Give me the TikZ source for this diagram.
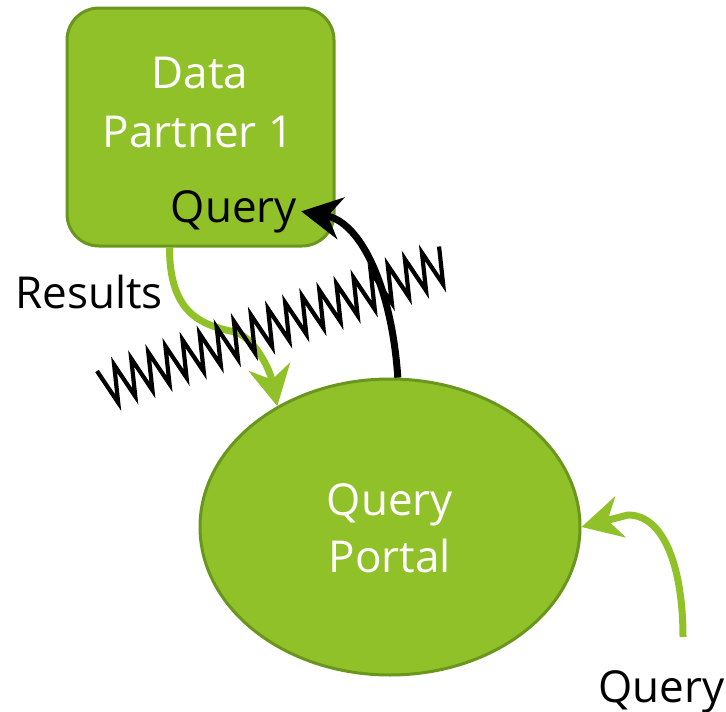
\documentclass[tikz,border=0pt]{standalone}
\usepackage{fontspec}
\setmainfont{Open Sans}
\usetikzlibrary{shapes.geometric,arrows.meta}

\definecolor{lime}{RGB}{144,193,40}
\definecolor{limedark}{RGB}{106,150,30}

\tikzset{
  site/.style={draw=limedark, fill=lime, line width=3pt},
  lbl/.style={font=\fontsize{44}{55}\selectfont, inner sep=0pt},
  flow/.style={line width=7pt, -{Stealth[length=40pt,width=42pt,inset=13pt]}},
}

\begin{document}
\begin{tikzpicture}[x=1pt,y=-1pt]
\useasboundingbox (0,0) rectangle (726,712);

% the two sites
\node[site, rounded corners=32pt, minimum width=267pt, minimum height=238pt] (partner) at (200.5,127) {};
\node[site, ellipse, minimum width=380pt, minimum height=296pt] (portal) at (390,527) {};

\node[lbl, white, anchor=base] (pdata) at (200,88) {Data};
\node[lbl, white, anchor=base] (pname) at (198,147) {Partner 1};
\node[lbl, anchor=base, inner sep=4pt] (pq) at (234,222) {Query};
\node[lbl, white, anchor=base] (qp1) at (390,515) {Query};
\node[lbl, white, anchor=base] (qp2) at (390,572) {Portal};
\node[lbl, anchor=base west] (res) at (15,308) {Results};
\node[lbl, anchor=base west] (qin) at (598,702) {Query};
\coordinate (qstart) at (683,637);

% results back to the portal
\draw[flow, lime] ([xshift=-31pt]partner.south) .. controls +(0,65) and (200,325) .. (235,332)
  .. controls (255,338) and (270,370) .. (portal.133);
% incoming query
\draw[flow, lime] (qstart) .. controls (683,570) and (665,515) .. (628,515) -- (portal.east);

% firewall
\begin{scope}[shift={(97,371)}, rotate=20]
\draw[line width=4.2pt, line join=miter] (0,0)
  \foreach \i in {1,...,40} { -- ({\i*9.1},{mod(\i,2)*37}) };
\end{scope}

% query to the partner
\draw[flow, black] (portal.87) .. controls (392,290) and (362,222) .. (pq.east);
\end{tikzpicture}
\end{document}
